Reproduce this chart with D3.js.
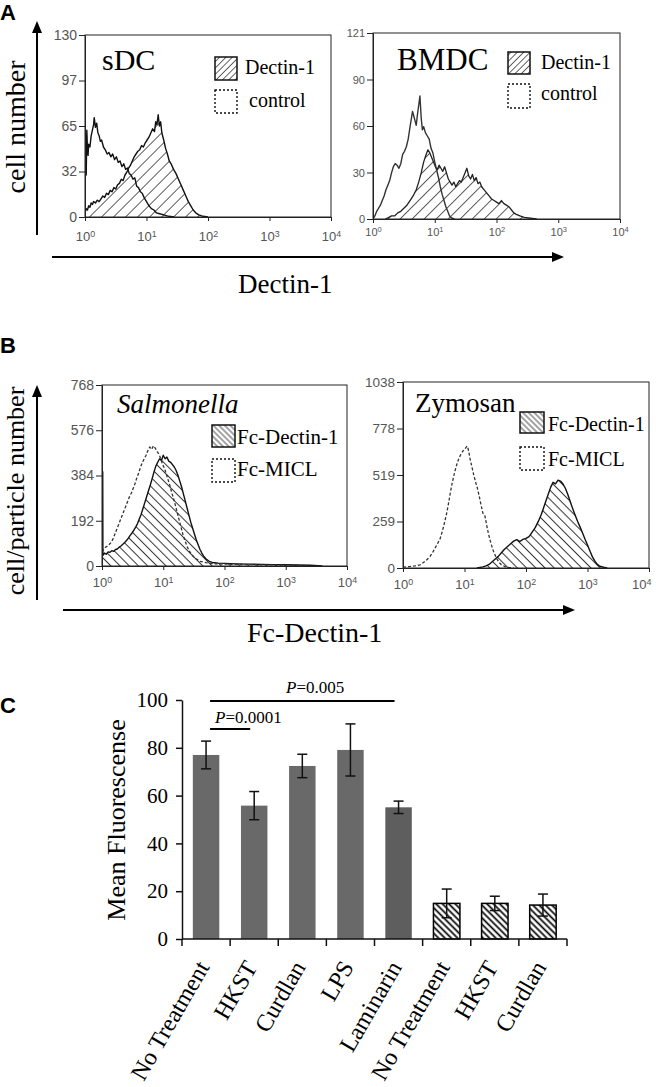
<!DOCTYPE html>
<html><head><meta charset="utf-8">
<script src="https://cdn.jsdelivr.net/npm/d3@7"></script>
<style>body{margin:0;background:#fff} svg{display:block}</style>
</head><body>
<svg id="fig" width="656" height="1087"></svg>
<script>
// ---------------- DATA ----------------
const histTicks = [1, 10, 100, 1000, 10000];
const histTickExp = ["0", "1", "2", "3", "4"];

const sdcYTicks = [0, 32.5, 65, 97.5, 130];
const sdcYLabels = ["0", "32", "65", "97", "130"];
const bmdcYTicks = [0, 30.25, 60.5, 90.75, 121];
const bmdcYLabels = ["0", "30", "60", "90", "121"];
const salYTicks = [0, 192, 384, 576, 768];
const salYLabels = ["0", "192", "384", "576", "768"];
const zymYTicks = [0, 259.5, 519, 778.5, 1038];
const zymYLabels = ["0", "259", "519", "778", "1038"];

// histogram points: [log10 fluorescence, count]
const sdcControl = [[0.00,0],[0.00,80],[0.01,42],[0.02,30],[0.03,62],[0.04,48],[0.05,44],[0.06,52],[0.08,50],[0.10,58],[0.12,62],[0.14,66],[0.15,71],[0.17,64],[0.19,67],[0.21,60],[0.23,58],[0.25,54],[0.27,55],[0.30,50],[0.33,48],[0.36,45],[0.39,46],[0.42,43],[0.45,45],[0.48,41],[0.51,43],[0.54,39],[0.57,40],[0.60,36],[0.63,38],[0.66,34],[0.69,35],[0.72,31],[0.75,30],[0.78,27],[0.81,28],[0.84,22],[0.87,21],[0.90,18],[0.93,17],[0.96,14],[1.00,11],[1.04,8],[1.08,6],[1.12,5],[1.16,3],[1.20,2.5],[1.28,1.5],[1.36,0.5],[1.45,0]];
const sdcDectin = [[0.00,3],[0.02,6],[0.04,5],[0.06,8],[0.08,7],[0.10,10],[0.12,9],[0.14,11],[0.17,10],[0.20,12],[0.23,11],[0.26,13],[0.29,15],[0.32,14],[0.35,17],[0.38,16],[0.41,19],[0.44,18],[0.47,21],[0.50,20],[0.53,23],[0.56,24],[0.59,27],[0.62,26],[0.65,30],[0.68,32],[0.71,35],[0.74,37],[0.77,40],[0.80,43],[0.83,45],[0.86,47],[0.89,48],[0.92,51],[0.95,50],[0.98,53],[1.01,55],[1.04,57],[1.07,60],[1.10,63],[1.13,61],[1.15,68],[1.17,66],[1.19,73],[1.21,65],[1.23,68],[1.25,60],[1.28,55],[1.31,49],[1.34,45],[1.37,40],[1.40,38],[1.44,34],[1.48,31],[1.52,27],[1.56,23],[1.60,19],[1.64,15],[1.68,11],[1.72,8],[1.76,5],[1.80,3],[1.85,1.5],[1.92,0.5],[2.0,0]];

const bmdcControl = [[0.00,0],[0.03,2],[0.06,5],[0.09,7],[0.12,9],[0.15,12],[0.18,15],[0.21,19],[0.24,22],[0.27,25],[0.30,30],[0.33,34],[0.36,36],[0.39,35],[0.42,33],[0.45,36],[0.48,42],[0.51,44],[0.54,47],[0.57,52],[0.60,60],[0.62,65],[0.64,70],[0.66,67],[0.68,64],[0.70,61],[0.72,68],[0.74,74],[0.76,80],[0.78,66],[0.80,58],[0.82,60],[0.85,56],[0.88,54],[0.91,52],[0.94,46],[0.97,43],[1.00,37],[1.03,32],[1.06,27],[1.09,21],[1.12,16],[1.15,12],[1.18,8],[1.21,5],[1.24,2],[1.28,0.5],[1.32,0]];
const bmdcDectin = [[0.20,0],[0.25,1],[0.30,2],[0.35,2],[0.40,4],[0.45,5],[0.50,7],[0.55,9],[0.60,12],[0.65,15],[0.70,19],[0.74,24],[0.78,30],[0.82,37],[0.86,42],[0.89,45],[0.92,43],[0.95,40],[0.98,37],[1.01,34],[1.04,32],[1.07,35],[1.10,33],[1.13,31],[1.16,34],[1.19,30],[1.22,26],[1.25,24],[1.28,22],[1.31,24],[1.34,21],[1.37,23],[1.40,25],[1.43,24],[1.46,27],[1.49,30],[1.52,33],[1.55,28],[1.58,26],[1.61,29],[1.64,25],[1.67,27],[1.70,23],[1.73,24],[1.76,21],[1.80,19],[1.84,17],[1.88,15],[1.92,13],[1.96,12],[2.00,11],[2.04,10],[2.08,12],[2.12,10],[2.16,9],[2.20,8],[2.24,6],[2.28,4],[2.32,3],[2.38,2],[2.45,1],[2.55,0.5],[2.65,0]];

const salMICL = [[0.00,60],[0.03,70],[0.06,80],[0.09,85],[0.12,92],[0.15,100],[0.18,115],[0.21,135],[0.24,155],[0.27,175],[0.30,195],[0.33,215],[0.36,235],[0.39,255],[0.42,275],[0.45,295],[0.48,310],[0.51,330],[0.54,350],[0.57,375],[0.60,395],[0.63,420],[0.66,440],[0.69,455],[0.72,470],[0.75,490],[0.78,505],[0.81,495],[0.84,510],[0.87,500],[0.90,485],[0.93,475],[0.96,455],[0.99,430],[1.02,415],[1.05,390],[1.08,365],[1.11,340],[1.14,310],[1.17,285],[1.20,255],[1.23,225],[1.26,195],[1.29,165],[1.32,135],[1.35,110],[1.38,90],[1.42,65],[1.46,50],[1.50,38],[1.55,28],[1.60,20],[1.70,14],[1.80,10],[2.0,8],[2.3,6],[2.6,5],[2.9,4],[3.2,3]];
const salDectin = [[0.00,0],[0.00,400],[0.012,400],[0.015,45],[0.04,55],[0.07,50],[0.10,60],[0.13,58],[0.16,65],[0.19,62],[0.22,70],[0.25,72],[0.28,80],[0.31,85],[0.34,92],[0.37,100],[0.40,108],[0.43,118],[0.46,130],[0.49,140],[0.52,152],[0.55,165],[0.58,180],[0.61,200],[0.64,220],[0.67,245],[0.70,270],[0.73,295],[0.76,320],[0.79,345],[0.82,372],[0.85,400],[0.88,425],[0.91,440],[0.94,455],[0.97,448],[1.00,470],[1.03,455],[1.06,462],[1.09,445],[1.12,440],[1.15,430],[1.18,420],[1.21,405],[1.24,385],[1.27,360],[1.30,335],[1.33,305],[1.36,275],[1.39,245],[1.42,215],[1.45,185],[1.48,160],[1.51,135],[1.54,110],[1.57,90],[1.60,70],[1.63,55],[1.66,42],[1.70,30],[1.75,20],[1.80,15],[1.90,12],[2.0,11],[2.2,9],[2.4,8],[2.6,7],[2.8,6],[3.0,5],[3.2,4],[3.4,3],[3.6,0]];

const zymMICL = [[0.00,5],[0.10,8],[0.20,12],[0.28,18],[0.35,35],[0.40,50],[0.44,65],[0.48,85],[0.52,110],[0.56,135],[0.60,160],[0.64,205],[0.68,260],[0.71,305],[0.74,360],[0.77,420],[0.80,475],[0.83,520],[0.86,560],[0.89,595],[0.92,620],[0.95,640],[0.98,655],[1.01,665],[1.04,680],[1.06,665],[1.09,610],[1.12,565],[1.15,520],[1.18,480],[1.21,445],[1.24,400],[1.27,350],[1.30,305],[1.33,295],[1.36,240],[1.39,190],[1.42,150],[1.45,115],[1.48,85],[1.52,55],[1.56,32],[1.60,18],[1.66,8],[1.72,3],[1.80,0]];
const zymDectin = [[1.20,0],[1.25,3],[1.30,6],[1.35,12],[1.40,20],[1.45,35],[1.50,50],[1.55,65],[1.60,85],[1.65,105],[1.70,120],[1.75,135],[1.80,150],[1.85,158],[1.90,148],[1.95,160],[2.00,165],[2.05,175],[2.10,200],[2.15,225],[2.20,260],[2.25,300],[2.30,350],[2.35,400],[2.40,450],[2.44,478],[2.48,470],[2.52,490],[2.56,485],[2.60,470],[2.64,445],[2.68,410],[2.72,370],[2.76,330],[2.80,295],[2.84,260],[2.88,228],[2.92,195],[2.96,160],[3.00,128],[3.04,95],[3.08,62],[3.12,38],[3.16,20],[3.20,10],[3.26,4],[3.32,0]];

// Panel C
const cCategories = ["No Treatment", "HKST", "Curdlan", "LPS", "Laminarin", "No Treatment", "HKST", "Curdlan"];
const cValues = [77, 55.8, 72.4, 79.1, 55.1, 14.9, 14.9, 14.2];
const cErrors = [5.8, 5.9, 4.9, 10.9, 2.6, 6, 3, 4.6];
const cHatched = [false, false, false, false, false, true, true, true];
const cYTicks = [0, 20, 40, 60, 80, 100];

// ---------------- DRAWING ----------------
const SERIF = "'Liberation Serif', 'Times New Roman', serif";
const SANS = "'Liberation Sans', Arial, sans-serif";
const svg = d3.select("#fig");
svg.append("rect").attr("width", 656).attr("height", 1087).attr("fill", "#fff");
const defs = svg.append("defs");

function hatch(id, angle, spacing, width, color) {
  const p = defs.append("pattern").attr("id", id).attr("patternUnits", "userSpaceOnUse")
    .attr("width", spacing).attr("height", spacing).attr("patternTransform", `rotate(${angle})`);
  p.append("rect").attr("width", spacing).attr("height", spacing).attr("fill", "#fff");
  p.append("line").attr("x1", spacing / 2).attr("x2", spacing / 2).attr("y1", -1).attr("y2", spacing + 1)
    .attr("stroke", color).attr("stroke-width", width);
}
hatch("pA", 45, 8.5, 1, "#555");
hatch("pAleg", 45, 4.5, 0.9, "#555");
hatch("pB", -45, 6.5, 1, "#333");
hatch("pBleg", -45, 4, 0.9, "#333");
hatch("pC", -45, 4.5, 1.7, "#000");

function arrow(x1, y1, x2, y2) {
  const ang = Math.atan2(y2 - y1, x2 - x1);
  const L = 12, W = 5;
  const bx = x2 - L * Math.cos(ang), by = y2 - L * Math.sin(ang);
  svg.append("line").attr("x1", x1).attr("y1", y1).attr("x2", bx).attr("y2", by)
    .attr("stroke", "#000").attr("stroke-width", 2);
  svg.append("path").attr("d", `M${x2},${y2} L${bx - W * Math.sin(ang)},${by + W * Math.cos(ang)} L${bx + W * Math.sin(ang)},${by - W * Math.cos(ang)} Z`)
    .attr("fill", "#000");
}

let clipN = 0;
function drawHist(o) {
  const g = svg.append("g");
  const x = d3.scaleLog().domain([1, 1e4]).range([o.left, o.right]);
  const y = d3.scaleLinear().domain([0, o.yMax]).range([o.bottom, o.top]);
  const cid = "clip" + (clipN++);
  defs.append("clipPath").attr("id", cid).append("rect")
    .attr("x", o.left).attr("y", o.top).attr("width", o.right - o.left).attr("height", o.bottom - o.top);
  const pg = g.append("g").attr("clip-path", `url(#${cid})`);
  const px = d => x(Math.pow(10, d[0]));
  o.curves.forEach(c => {
    if (c.fill) {
      pg.append("path").datum(c.data)
        .attr("d", d3.area().x(px).y0(y(0)).y1(d => y(d[1])))
        .attr("fill", `url(#${c.fill})`);
    }
  });
  o.curves.forEach(c => {
    pg.append("path").datum(c.data)
      .attr("d", d3.line().x(px).y(d => y(d[1])))
      .attr("fill", "none").attr("stroke", c.color).attr("stroke-width", c.sw)
      .attr("stroke-dasharray", c.dash || null).attr("stroke-linejoin", "round");
  });
  g.append("rect").attr("x", o.left).attr("y", o.top).attr("width", o.right - o.left).attr("height", o.bottom - o.top)
    .attr("fill", "none").attr("stroke", "#222").attr("stroke-width", 1);
  // y axis
  const ya = g.append("g").attr("transform", `translate(${o.left},0)`)
    .call(d3.axisLeft(y).tickValues(o.yTicks).tickFormat((d, i) => o.yLabels[i]).tickSize(6).tickSizeOuter(0).tickPadding(2));
  ya.select(".domain").attr("stroke", "#222");
  ya.selectAll(".tick line").attr("stroke", "#222");
  ya.selectAll(".tick text").attr("font-family", SANS).attr("font-size", o.yFont).attr("fill", "#555");
  // x axis
  const xa = g.append("g").attr("transform", `translate(0,${o.bottom})`)
    .call(d3.axisBottom(x).tickValues(histTicks).tickFormat("").tickSize(4).tickSizeOuter(0).tickPadding(o.xPad));
  xa.select(".domain").attr("stroke", "#222");
  xa.selectAll(".tick line").attr("stroke", "#222");
  xa.selectAll(".tick text").attr("font-family", SANS).attr("font-size", o.xFont).attr("fill", "#555")
    .each(function (d, i) {
      const t = d3.select(this);
      t.text(null);
      if (o.lastEnd && i === histTicks.length - 1) t.attr("text-anchor", "end").attr("dx", 2);
      t.append("tspan").text("10");
      t.append("tspan").attr("dy", -4).attr("font-size", o.xFont * 0.68).text(histTickExp[i]);
    });
  // title
  g.append("text").attr("x", o.title.x).attr("y", o.title.y).attr("font-family", SERIF)
    .attr("font-size", o.title.size).attr("font-style", o.title.italic ? "italic" : null).text(o.title.text);
  // legend
  o.legend.forEach(l => {
    g.append("rect").attr("x", l.bx).attr("y", l.by).attr("width", l.bw).attr("height", l.bh)
      .attr("fill", l.fill ? `url(#${l.fill})` : "#fff").attr("stroke", "#111")
      .attr("stroke-width", l.fill ? 1.5 : 1.4).attr("stroke-dasharray", l.fill ? null : "2,2");
    g.append("text").attr("x", l.tx).attr("y", l.ty).attr("font-family", SERIF).attr("font-size", l.size).text(l.text);
  });
}

// Panel A
drawHist({
  left: 85, right: 331, top: 35, bottom: 217, yMax: 130, yTicks: sdcYTicks, yLabels: sdcYLabels,
  yFont: 14, xFont: 13, xPad: 11,
  curves: [
    { data: sdcDectin, fill: "pA", color: "#111", sw: 1.4 },
    { data: sdcControl, color: "#111", sw: 1.4 }
  ],
  title: { text: "sDC", x: 102, y: 70, size: 30 },
  legend: [
    { bx: 215, by: 57, bw: 22, bh: 23, fill: "pAleg", tx: 245, ty: 74, size: 20, text: "Dectin-1" },
    { bx: 215, by: 90, bw: 22, bh: 23, tx: 249, ty: 107, size: 20, text: "control" }
  ]
});
drawHist({
  left: 373, right: 620, top: 33, bottom: 219, yMax: 121, yTicks: bmdcYTicks, yLabels: bmdcYLabels,
  yFont: 11, xFont: 11, xPad: 5,
  curves: [
    { data: bmdcDectin, fill: "pA", color: "#222", sw: 1.3 },
    { data: bmdcControl, color: "#333", sw: 1.4 }
  ],
  title: { text: "BMDC", x: 397, y: 70, size: 31 },
  legend: [
    { bx: 508, by: 52, bw: 22, bh: 22, fill: "pAleg", tx: 541, ty: 69, size: 20, text: "Dectin-1" },
    { bx: 508, by: 84, bw: 22, bh: 24, tx: 541, ty: 100, size: 20, text: "control" }
  ]
});
arrow(37, 235, 37, 21);
arrow(52, 257, 564, 257);
svg.append("text").attr("transform", "translate(25,127) rotate(-90)").attr("text-anchor", "middle")
  .attr("font-family", SERIF).attr("font-size", 28).text("cell number");
svg.append("text").attr("x", 238).attr("y", 293).attr("font-family", SERIF).attr("font-size", 27).text("Dectin-1");

// Panel B
drawHist({
  left: 102, right: 347, top: 385, bottom: 566, yMax: 768, yTicks: salYTicks, yLabels: salYLabels,
  yFont: 14, xFont: 13, xPad: 8,
  curves: [
    { data: salDectin, fill: "pB", color: "#111", sw: 1.4 },
    { data: salMICL, color: "#333", sw: 1.3, dash: "3,2" }
  ],
  title: { text: "Salmonella", x: 117, y: 413, size: 27, italic: true },
  legend: [
    { bx: 212, by: 425, bw: 23, bh: 22, fill: "pBleg", tx: 237, ty: 444, size: 21, text: "Fc-Dectin-1" },
    { bx: 212, by: 459, bw: 23, bh: 23, tx: 237, ty: 476, size: 21, text: "Fc-MICL" }
  ]
});
drawHist({
  left: 403, right: 649, top: 382, bottom: 568, yMax: 1038, yTicks: zymYTicks, yLabels: zymYLabels,
  yFont: 13.5, xFont: 13, xPad: 8, lastEnd: true,
  curves: [
    { data: zymDectin, fill: "pB", color: "#111", sw: 1.4 },
    { data: zymMICL, color: "#333", sw: 1.3, dash: "3,2" }
  ],
  title: { text: "Zymosan", x: 415, y: 412, size: 27 },
  legend: [
    { bx: 520, by: 412, bw: 24, bh: 21, fill: "pBleg", tx: 548, ty: 431, size: 20, text: "Fc-Dectin-1" },
    { bx: 520, by: 447, bw: 24, bh: 23, tx: 548, ty: 466, size: 20, text: "Fc-MICL" }
  ]
});
arrow(37, 600, 37, 385);
arrow(63, 610, 575, 610);
svg.append("text").attr("transform", "translate(24,491) rotate(-90)").attr("text-anchor", "middle")
  .attr("font-family", SERIF).attr("font-size", 26).text("cell/particle number");
svg.append("text").attr("x", 247).attr("y", 642).attr("font-family", SERIF).attr("font-size", 28).text("Fc-Dectin-1");

// Panel letters
[["A", 0, 20], ["B", 0, 353], ["C", 0, 713]].forEach(([t, x, y]) =>
  svg.append("text").attr("x", x).attr("y", y).attr("font-family", SANS).attr("font-weight", "bold")
    .attr("font-size", 22).text(t));

// Panel C bar chart
{
  const left = 182, right = 567, top = 700, bottom = 939;
  const x = d3.scaleBand().domain(d3.range(cCategories.length)).range([left, right])
    .paddingInner(0.45).paddingOuter(0.225);
  const y = d3.scaleLinear().domain([0, 100]).range([bottom, top]);
  const g = svg.append("g");
  g.selectAll("rect.bar").data(cValues).join("rect").attr("class", "bar")
    .attr("x", (d, i) => x(i)).attr("width", x.bandwidth())
    .attr("y", d => y(d)).attr("height", d => y(0) - y(d))
    .attr("fill", (d, i) => cHatched[i] ? "url(#pC)" : (i === 4 ? "#5e5e5e" : "#696969"))
    .attr("stroke", (d, i) => cHatched[i] ? "#000" : "none").attr("stroke-width", 1.5);
  // error bars
  cValues.forEach((v, i) => {
    const cx = x(i) + x.bandwidth() / 2;
    const e = cErrors[i];
    g.append("line").attr("x1", cx).attr("x2", cx).attr("y1", y(v - e)).attr("y2", y(v + e)).attr("stroke", "#111").attr("stroke-width", 1.5);
    [v - e, v + e].forEach(w => g.append("line").attr("x1", cx - 5).attr("x2", cx + 5).attr("y1", y(w)).attr("y2", y(w))
      .attr("stroke", "#111").attr("stroke-width", 1.5));
  });
  // y axis
  const ya = g.append("g").attr("transform", `translate(${left},0)`)
    .call(d3.axisLeft(y).tickValues(cYTicks).tickSize(6).tickSizeOuter(0).tickPadding(8));
  ya.select(".domain").attr("stroke", "#111").attr("stroke-width", 1.5);
  ya.selectAll(".tick line").attr("stroke", "#111").attr("stroke-width", 1.5);
  ya.selectAll(".tick text").attr("font-family", SERIF).attr("font-size", 21).attr("fill", "#000");
  // x axis with ticks at band boundaries
  g.append("line").attr("x1", left).attr("x2", right).attr("y1", bottom).attr("y2", bottom).attr("stroke", "#111").attr("stroke-width", 1.5);
  const bounds = cCategories.map((c, i) => x(i) - x.step() * x.paddingInner() / 2).concat([right]);
  bounds[0] = left;
  bounds.forEach(b => g.append("line").attr("x1", b).attr("x2", b).attr("y1", bottom).attr("y2", bottom + 7).attr("stroke", "#111").attr("stroke-width", 1.5));
  cCategories.forEach((c, i) => {
    const cx = x(i) + x.bandwidth() / 2 + 4;
    g.append("text").attr("transform", `translate(${cx},${bottom + 28}) rotate(-60)`).attr("text-anchor", "end")
      .attr("font-family", SERIF).attr("font-size", 24).text(c);
  });
  svg.append("text").attr("transform", `translate(125,820) rotate(-90)`).attr("text-anchor", "middle")
    .attr("font-family", SERIF).attr("font-size", 26).text("Mean Fluorescense");
  // significance bars
  g.append("line").attr("x1", x(0) + x.bandwidth() / 2 + 4).attr("x2", x(4) + x.bandwidth() / 2 - 4).attr("y1", 701).attr("y2", 701).attr("stroke", "#000").attr("stroke-width", 2.2);
  g.append("line").attr("x1", x(0) + x.bandwidth() / 2 + 4).attr("x2", x(1) + x.bandwidth() / 2 - 4).attr("y1", 729).attr("y2", 729).attr("stroke", "#000").attr("stroke-width", 2.2);
  const pt1 = g.append("text").attr("x", 286).attr("y", 693).attr("font-family", SERIF).attr("font-size", 17);
  pt1.append("tspan").attr("font-style", "italic").text("P");
  pt1.append("tspan").text("=0.005");
  const pt2 = g.append("text").attr("x", 215).attr("y", 723).attr("font-family", SERIF).attr("font-size", 17);
  pt2.append("tspan").attr("font-style", "italic").text("P");
  pt2.append("tspan").text("=0.0001");
}
</script>
</body></html>
